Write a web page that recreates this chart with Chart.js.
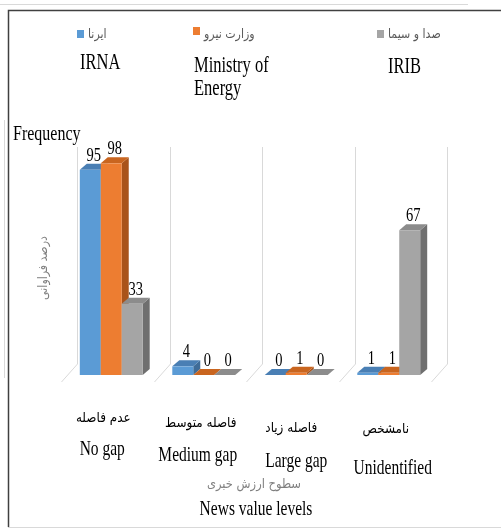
<!DOCTYPE html>
<html>
<head>
<meta charset="utf-8">
<script src="https://cdn.jsdelivr.net/npm/chart.js@4/dist/chart.umd.min.js"></script>
<style>
  html, body { margin: 0; padding: 0; background: #fff; }
  canvas { display: block; }
</style>
</head>
<body>
<canvas id="chart" width="501" height="529"></canvas>
<script>
// ---------------- DATA ----------------
const categoriesFa = ["عدم فاصله", "فاصله متوسط", "فاصله زیاد", "نامشخص"];
const categoriesEn = ["No gap", "Medium gap", "Large gap", "Unidentified"];
const seriesFa = ["ایرنا", "وزارت نیرو", "صدا و سیما"];
const seriesEn = [["IRNA"], ["Ministry of", "Energy"], ["IRIB"]];
const irna = [95, 4, 0, 1];
const energy = [98, 0, 1, 1];
const irib = [33, 0, 0, 67];
const yTitleFa = "درصد فراوانی";
const yTitleEn = "Frequency";
const xTitleFa = "سطوح ارزش خبری";
const xTitleEn = "News value levels";

// ---------------- STYLE ----------------
const fronts = ["#5b9bd5", "#ed7d31", "#a5a5a5"];
const tops = ["#4a7fb4", "#c9651f", "#8c8c8c"];
const sides = ["#3f6c98", "#a9531a", "#6f6f6f"];
const DEPTH_X = 7;
const DEPTH_Y = 6;
const SERIF = "'Liberation Serif', 'Times New Roman', serif";
const ARABIC = "'DejaVu Sans', sans-serif";
const STRETCH = 1.35;

// label placement (offset from category centre, baselines)
const faDx = [-8, -3, -5, -3];
const faBase = [422, 427, 432, 433];
const enDx = [-9, -6, 0, 4];
const enBase = [455, 461, 467, 474];
const legendX = [77, 193, 377];
const legendEnX = [80, 194, 388];
const legendEnBase = [[69], [72, 95], [73]];

function txt(ctx, s, x, y, font, color, align, sy) {
  ctx.save();
  ctx.font = font;
  ctx.fillStyle = color;
  ctx.textAlign = align;
  ctx.textBaseline = "alphabetic";
  ctx.translate(x, y);
  ctx.scale(1, sy);
  ctx.fillText(s, 0, 0);
  ctx.restore();
}

function poly(ctx, pts, color) {
  ctx.beginPath();
  ctx.moveTo(pts[0][0], pts[0][1]);
  for (let i = 1; i < pts.length; i++) ctx.lineTo(pts[i][0], pts[i][1]);
  ctx.closePath();
  ctx.fillStyle = color;
  ctx.fill();
}

const frame3d = {
  id: "frame3d",
  beforeDatasetsDraw(chart) {
    const ctx = chart.ctx;
    const x = chart.scales.x;
    const area = chart.chartArea;
    const step = (area.right - area.left) / categoriesEn.length;
    ctx.save();
    // page frame
    ctx.strokeStyle = "#d9d9d9";
    ctx.lineWidth = 1;
    ctx.beginPath();
    ctx.moveTo(0, 4.5); ctx.lineTo(468, 4.5);
    ctx.moveTo(4.5, 120); ctx.lineTo(4.5, 378);
    ctx.moveTo(8, 527.5); ctx.lineTo(501, 527.5);
    ctx.stroke();
    ctx.strokeStyle = "#404040";
    ctx.lineWidth = 1.5;
    ctx.beginPath();
    ctx.moveTo(501, 10.5); ctx.lineTo(8.5, 10.5); ctx.lineTo(8.5, 527);
    ctx.stroke();
    // back wall dividers and floor diagonals
    ctx.strokeStyle = "#d9d9d9";
    ctx.lineWidth = 1;
    for (let i = 0; i <= categoriesEn.length; i++) {
      const bx = Math.round(area.left + i * step + 12) + 0.5;
      ctx.beginPath();
      ctx.moveTo(bx, area.top - 12);
      ctx.lineTo(bx, area.bottom - 11);
      ctx.lineTo(bx - 16, area.bottom + 7);
      ctx.stroke();
    }
    ctx.restore();
  },
  beforeDatasetDraw() {
    return false;
  },
  afterDatasetsDraw(chart) {
    const ctx = chart.ctx;
    const metas = chart.data.datasets.map((d, i) => chart.getDatasetMeta(i));
    ctx.save();
    for (let c = 0; c < categoriesEn.length; c++) {
      metas.forEach((meta, s) => {
        const b = meta.data[c];
        const l = b.x - b.width / 2;
        const r = b.x + b.width / 2;
        const t = b.y;
        const bo = b.base;
        poly(ctx, [[r, t], [r + DEPTH_X, t - DEPTH_Y], [r + DEPTH_X, bo - DEPTH_Y], [r, bo]], sides[s]);
        poly(ctx, [[l, t], [l + DEPTH_X, t - DEPTH_Y], [r + DEPTH_X, t - DEPTH_Y], [r, t]], tops[s]);
        if (bo - t > 0) {
          ctx.fillStyle = fronts[s];
          ctx.fillRect(l, t, r - l, bo - t);
        }
      });
    }
    // value labels
    metas.forEach((meta, s) => {
      meta.data.forEach((b, c) => {
        const v = chart.data.datasets[s].data[c];
        txt(ctx, String(v), b.x + DEPTH_X / 2, b.y - DEPTH_Y - 3,
          "14.5px " + SERIF, "#000", "center", STRETCH);
      });
    });
    ctx.restore();
  },
  afterDraw(chart) {
    const ctx = chart.ctx;
    const x = chart.scales.x;
    // legend
    seriesFa.forEach((name, s) => {
      ctx.fillStyle = fronts[s];
      ctx.fillRect(legendX[s], s === 1 ? 27 : 30, 7, 8);
      txt(ctx, name, legendX[s] + 11, 38, "11px " + ARABIC, "#595959", "left", 1.15);
      seriesEn[s].forEach((line, k) => {
        txt(ctx, line, legendEnX[s], legendEnBase[s][k], "16.5px " + SERIF, "#000", "left", STRETCH);
      });
    });
    // axis titles
    txt(ctx, yTitleEn, 13, 140, "16px " + SERIF, "#000", "left", STRETCH);
    ctx.save();
    ctx.translate(47, 268);
    ctx.rotate(-Math.PI / 2);
    txt(ctx, yTitleFa, 0, 0, "11px " + ARABIC, "#7f7f7f", "center", 1.15);
    ctx.restore();
    // category labels
    categoriesEn.forEach((en, i) => {
      const cx = x.getPixelForValue(i);
      txt(ctx, categoriesFa[i], cx + faDx[i], faBase[i], "12px " + ARABIC, "#000", "center", 1.15);
      txt(ctx, en, cx + enDx[i], enBase[i], "15.5px " + SERIF, "#000", "center", STRETCH);
    });
    txt(ctx, xTitleFa, 254, 488, "11.5px " + ARABIC, "#7f7f7f", "center", 1.15);
    txt(ctx, xTitleEn, 256, 515, "15.5px " + SERIF, "#000", "center", STRETCH);
  }
};

const chart = new Chart(document.getElementById("chart"), {
  type: "bar",
  data: {
    labels: categoriesEn,
    datasets: [
      { label: seriesEn[0].join(" "), data: irna, backgroundColor: fronts[0] },
      { label: seriesEn[1].join(" "), data: energy, backgroundColor: fronts[1] },
      { label: seriesEn[2].join(" "), data: irib, backgroundColor: fronts[2] }
    ]
  },
  options: {
    responsive: false,
    animation: false,
    devicePixelRatio: 1,
    layout: { padding: { left: 65, right: 66, top: 159, bottom: 154 } },
    categoryPercentage: 0.68,
    barPercentage: 1,
    plugins: {
      legend: { display: false },
      tooltip: { enabled: false }
    },
    scales: {
      x: { display: false },
      y: { display: false, min: 0, max: 100 }
    }
  },
  plugins: [frame3d]
});
</script>
</body>
</html>
